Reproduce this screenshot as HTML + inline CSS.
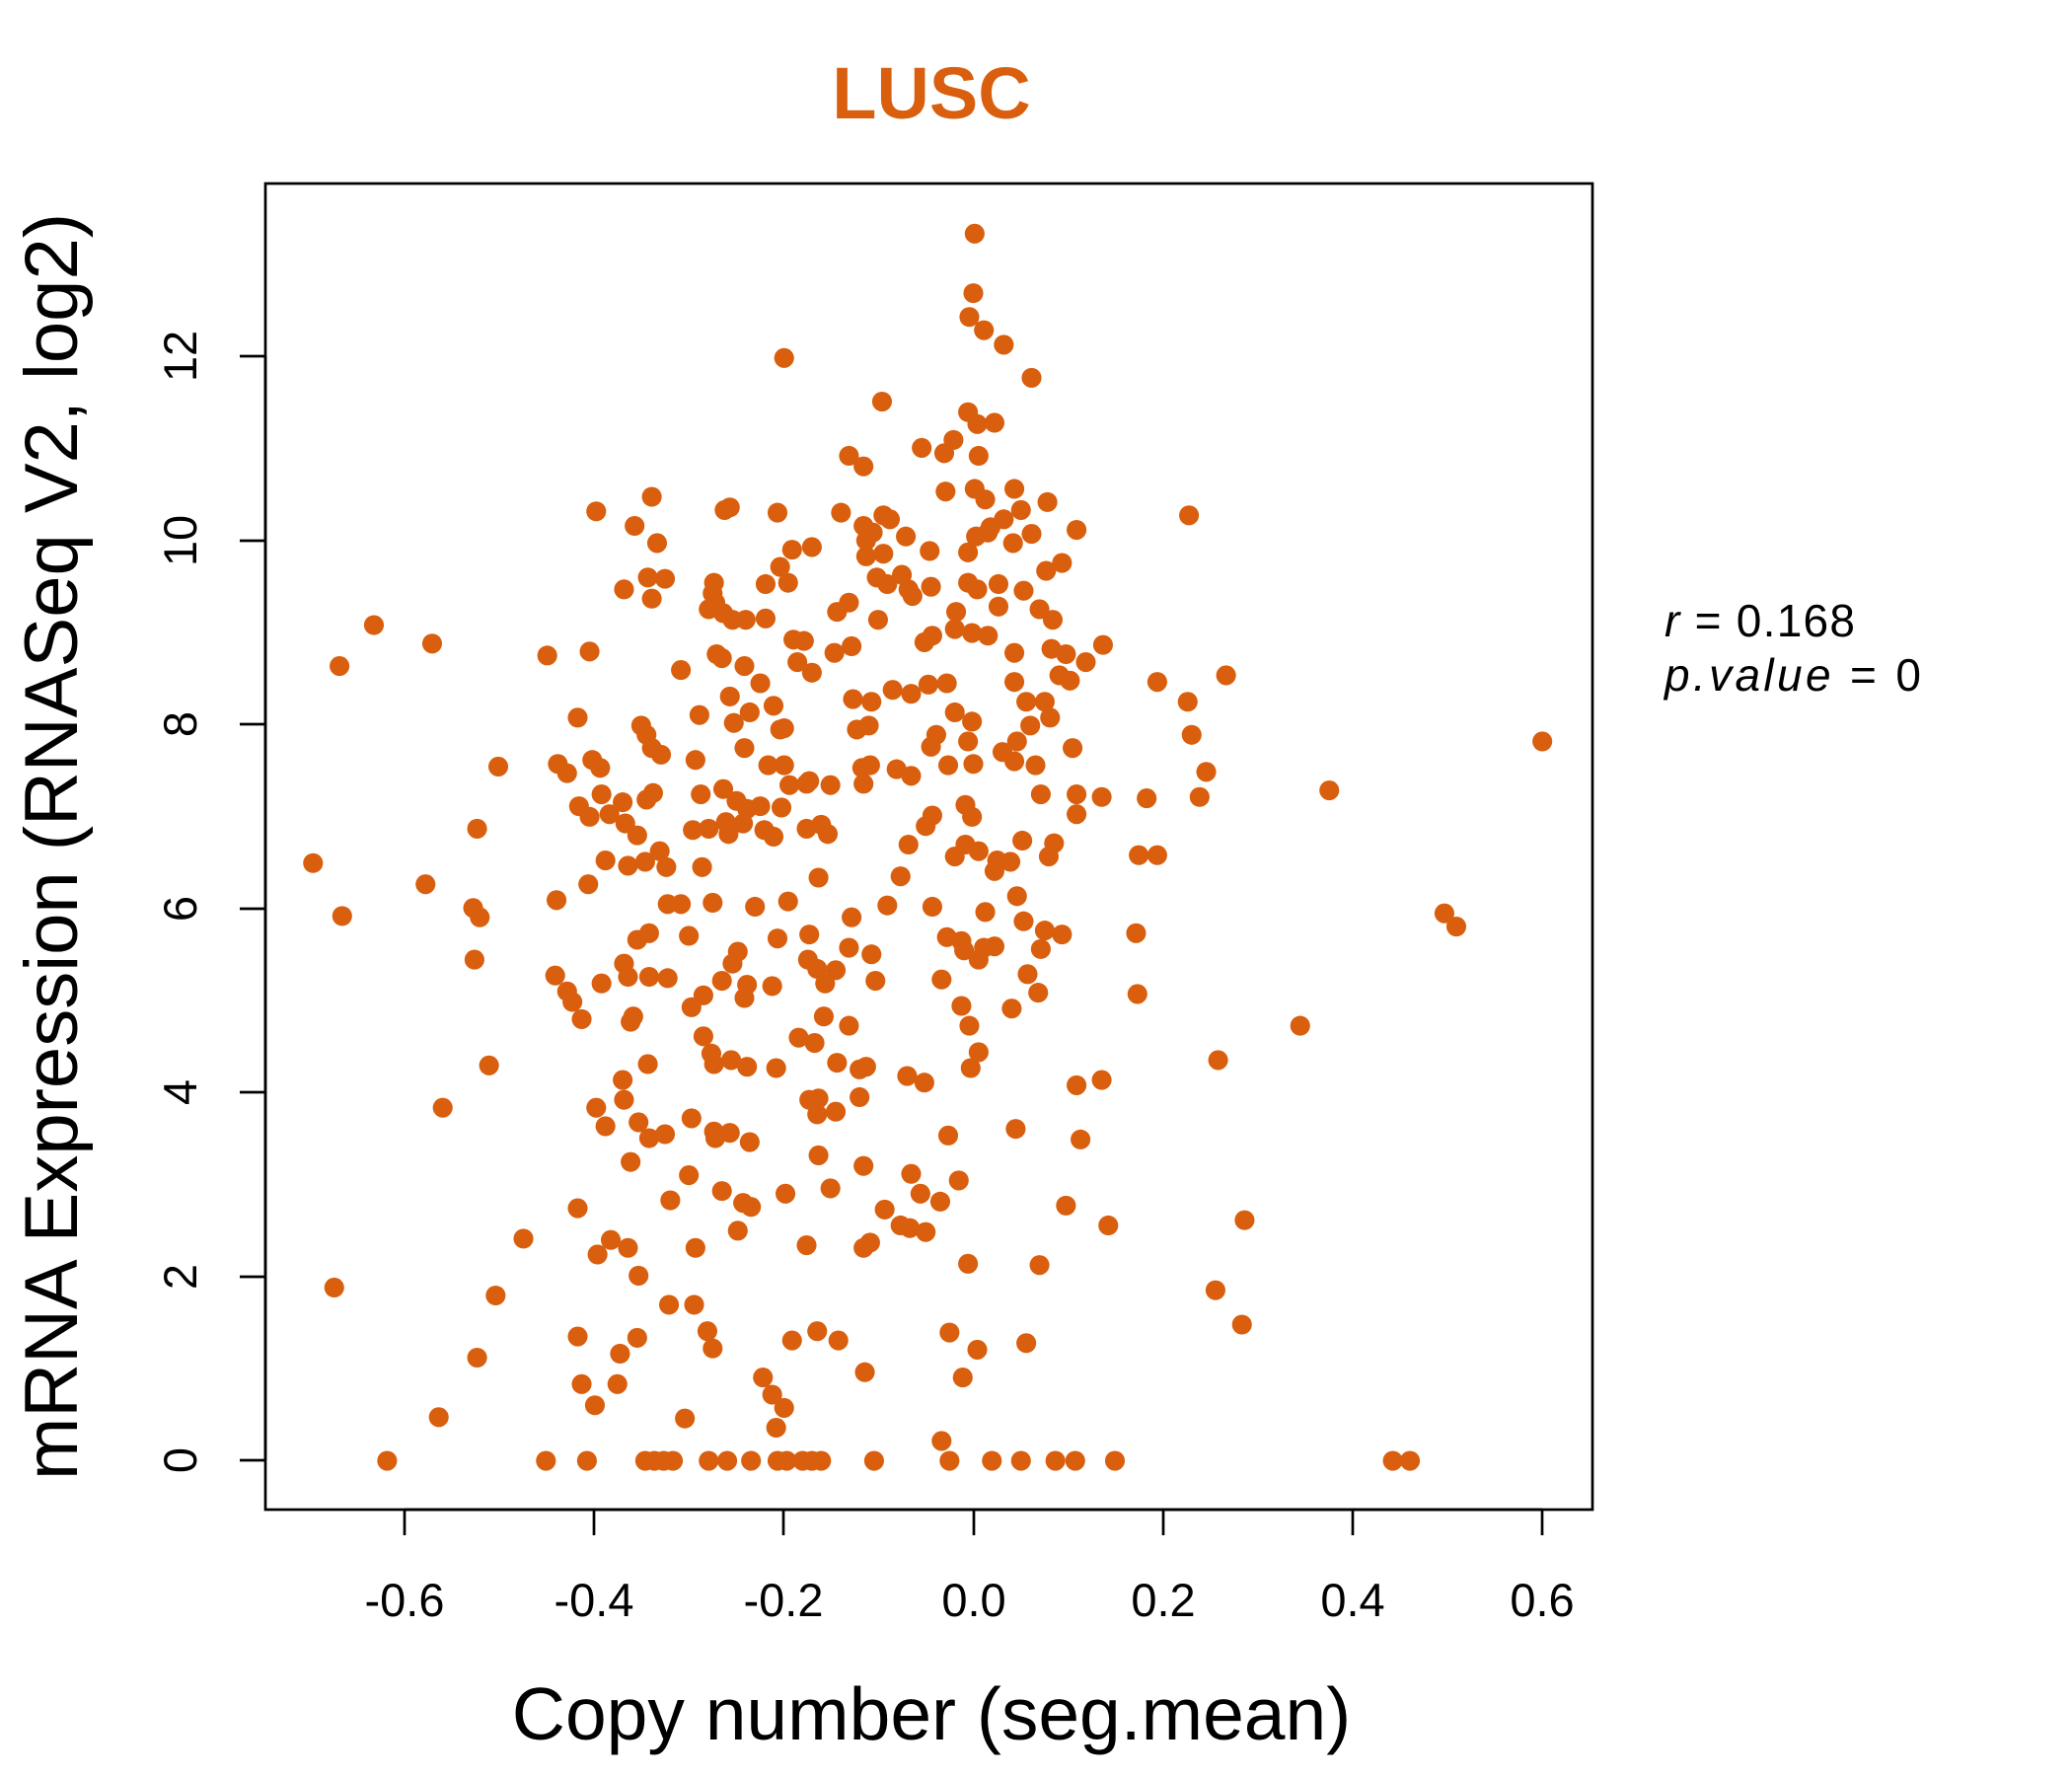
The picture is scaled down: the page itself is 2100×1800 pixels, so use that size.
<!DOCTYPE html>
<html><head><meta charset="utf-8"><style>
html,body{margin:0;padding:0;background:#fff;}
svg{display:block;}
text{font-family:"Liberation Sans",Arial,sans-serif;}
</style></head><body>
<svg width="2100" height="1800" viewBox="0 0 2100 1800" xmlns="http://www.w3.org/2000/svg">
<rect width="2100" height="1800" fill="#fff"/>
<text x="944" y="120" text-anchor="middle" font-size="74" font-weight="bold" fill="#D95F0E">LUSC</text>
<rect x="269" y="186" width="1345" height="1344" fill="none" stroke="#000" stroke-width="2.7"/>
<g stroke="#000" stroke-width="2.7">
<line x1="410" y1="1530" x2="1563" y2="1530"/>
<line x1="410" y1="1530" x2="410" y2="1556"/><line x1="602" y1="1530" x2="602" y2="1556"/><line x1="794" y1="1530" x2="794" y2="1556"/><line x1="987" y1="1530" x2="987" y2="1556"/><line x1="1179" y1="1530" x2="1179" y2="1556"/><line x1="1371" y1="1530" x2="1371" y2="1556"/><line x1="1563" y1="1530" x2="1563" y2="1556"/>
<line x1="269" y1="1480" x2="269" y2="361"/>
<line x1="269" y1="1480" x2="243" y2="1480"/><line x1="269" y1="1294" x2="243" y2="1294"/><line x1="269" y1="1107" x2="243" y2="1107"/><line x1="269" y1="921" x2="243" y2="921"/><line x1="269" y1="734" x2="243" y2="734"/><line x1="269" y1="548" x2="243" y2="548"/><line x1="269" y1="361" x2="243" y2="361"/>
</g>
<g font-size="47" text-anchor="middle" fill="#000">
<text x="410" y="1638">-0.6</text><text x="602" y="1638">-0.4</text><text x="794" y="1638">-0.2</text><text x="987" y="1638">0.0</text><text x="1179" y="1638">0.2</text><text x="1371" y="1638">0.4</text><text x="1563" y="1638">0.6</text>
<text transform="translate(199,1480) rotate(-90)">0</text>
<text transform="translate(199,1294) rotate(-90)">2</text>
<text transform="translate(199,1107) rotate(-90)">4</text>
<text transform="translate(199,921) rotate(-90)">6</text>
<text transform="translate(199,734) rotate(-90)">8</text>
<text transform="translate(199,548) rotate(-90)">10</text>
<text transform="translate(199,361) rotate(-90)">12</text>
</g>
<text x="944" y="1763" text-anchor="middle" font-size="75">Copy number (seg.mean)</text>
<text transform="translate(78,858) rotate(-90)" text-anchor="middle" font-size="76">mRNA Expression (RNASeq V2, log2)</text>
<text x="1687" y="645" font-size="46" textLength="193" lengthAdjust="spacing"><tspan font-style="italic">r</tspan> = 0.168</text>
<text x="1687" y="700" font-size="46" textLength="260" lengthAdjust="spacing"><tspan font-style="italic">p.value</tspan> = 0</text>
<g fill="#D95F0E" id="pts" transform="matrix(1.3411 0 0 1.3402 -1.9 0.95)"></g>
</svg>
<script>
var p=[738,176,737,221,734,239,745,249,760,260,594,270,781,285,668,303,733,311,740,320,753,319,722,332,698,338,715,342,643,344,654,352,741,344,452,386,494,375,549,385,553,383,589,387,637,387,669,389,674,392,716,371,738,369,746,377,768,369,793,379,900,389,773,385,760,392,481,397,654,397,661,402,656,408,686,405,781,403,815,400,748,402,739,405,498,410,600,415,615,413,767,410,704,416,656,420,669,418,733,417,750,398,491,436,504,437,473,445,494,452,541,440,540,448,580,441,591,428,597,440,664,436,672,441,683,434,688,445,705,443,733,440,740,445,756,441,792,431,804,425,775,446,542,455,537,460,548,463,555,468,565,468,580,467,634,462,643,455,665,468,691,450,724,462,756,458,787,460,797,468,284,472,328,486,258,503,415,495,447,492,516,506,543,494,547,497,564,503,576,516,601,483,609,484,604,500,615,508,632,493,645,488,700,485,706,480,723,475,736,478,748,480,768,493,796,490,807,494,822,500,835,487,876,515,899,530,928,510,553,526,530,540,556,546,568,538,586,533,591,551,649,551,658,548,646,528,660,530,676,521,690,524,703,517,717,516,723,538,736,545,709,555,768,515,777,530,791,530,802,510,810,514,795,542,780,548,812,565,768,575,438,542,449,574,486,548,490,555,494,565,501,570,527,574,564,565,582,578,594,550,594,578,613,590,653,580,679,581,690,586,705,564,733,560,718,578,737,577,759,568,770,560,784,578,902,555,913,583,1167,560,1006,597,1093,690,1102,700,378,579,423,577,430,584,455,580,439,609,456,600,472,606,490,604,495,599,531,600,548,596,558,605,566,611,576,609,592,610,598,593,611,592,629,593,654,592,659,578,706,616,701,624,731,608,736,617,788,600,815,600,815,615,834,602,868,603,908,602,362,626,447,617,462,615,474,622,483,631,500,643,525,627,537,626,550,621,552,630,563,622,579,627,586,632,611,626,622,623,627,630,688,638,731,638,741,643,755,650,765,651,774,635,798,637,794,647,862,646,876,646,238,652,459,650,476,654,489,651,505,655,532,655,620,663,682,662,723,647,753,658,770,677,323,668,446,668,422,680,359,686,364,693,260,692,506,683,516,683,540,682,572,685,597,681,645,693,672,684,706,685,746,689,775,696,804,706,791,703,860,705,360,725,483,710,492,705,522,707,559,719,589,709,613,706,643,716,660,721,717,708,728,711,745,716,753,715,741,725,730,718,612,725,619,732,633,733,625,743,663,741,788,717,778,736,786,750,861,751,421,737,430,749,434,757,456,743,473,728,476,738,492,738,506,739,547,741,564,754,566,744,533,752,555,728,713,740,728,760,766,762,441,770,480,768,478,772,524,761,585,745,624,768,643,775,734,775,741,795,735,807,984,775,371,805,491,804,533,783,539,796,541,804,554,801,566,806,588,807,605,784,617,788,634,803,651,808,656,806,687,813,700,818,922,801,815,820,834,816,472,816,473,831,452,837,459,851,336,837,484,848,492,860,504,857,524,845,541,855,542,860,553,856,568,863,613,831,620,830,633,840,619,842,651,829,769,853,818,861,718,858,478,878,522,888,508,907,547,900,563,909,569,912,595,902,620,873,629,898,654,881,690,887,697,902,712,908,726,892,807,911,438,913,670,914,682,926,689,928,701,931,559,930,839,926,942,922,397,936,463,937,476,943,527,943,453,948,659,939,654,943,611,941,733,955,787,956,254,973,484,964,920,975,376,979,507,986,526,986,536,1006,540,1019,600,1013,619,1006,635,1013,719,1007,740,1020,777,1015,940,1001,362,1026,438,1010,470,1023,483,1011,655,1037,578,1041,585,1054,594,1064,588,1079,729,1041,441,1046,468,1046,451,1062,333,1071,519,1072,713,1089,294,1104,414,1104,445,1104,489,1104,496,1104,503,1104,510,1104,537,1104,551,1104,569,1104,589,1104,596,1104,608,1104,615,1104,622,1104,662,1104,719,1104,751,1104,773,1104,799,1104,814,1104,844,1104,1054,1104,1067,1104];
var g=document.getElementById('pts'),s='';
for(var i=0;i<p.length;i+=2){s+='<circle cx="'+p[i]+'" cy="'+p[i+1]+'" r="7.5"/>';}
g.innerHTML=s;
</script>
</body></html>
